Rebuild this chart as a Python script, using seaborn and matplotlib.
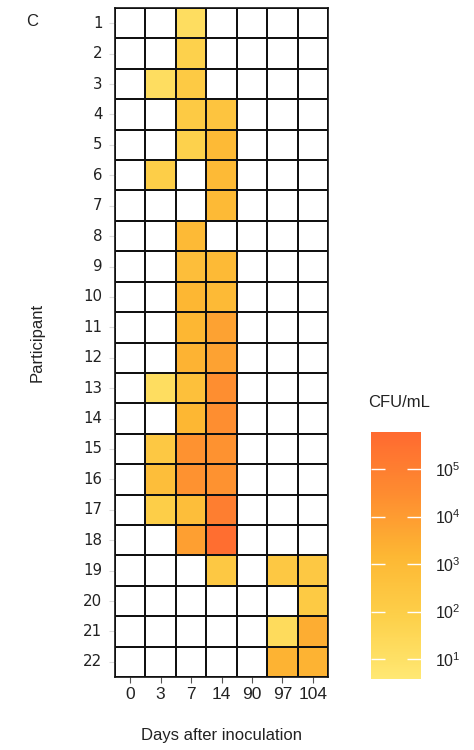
import numpy as np
import pandas as pd
import matplotlib
matplotlib.use('Agg')
import matplotlib.pyplot as plt
from matplotlib.colors import LinearSegmentedColormap, ListedColormap
import seaborn as sns

days = ['0', '3', '7', '14', '90', '97', '104']
participants = [str(i) for i in range(1, 23)]

# log10 CFU/mL per participant, columns follow `days`; nan = not detected
nan = np.nan
log_cfu = [
    [nan, nan, 1.2, nan, nan, nan, nan],
    [nan, nan, 1.8, nan, nan, nan, nan],
    [nan, 1.2, 2.2, nan, nan, nan, nan],
    [nan, nan, 2.2, 2.5, nan, nan, nan],
    [nan, nan, 1.8, 3.0, nan, nan, nan],
    [nan, 2.0, nan, 3.0, nan, nan, nan],
    [nan, nan, nan, 3.0, nan, nan, nan],
    [nan, nan, 3.0, nan, nan, nan, nan],
    [nan, nan, 2.8, 3.0, nan, nan, nan],
    [nan, nan, 3.2, 3.0, nan, nan, nan],
    [nan, nan, 3.2, 3.8, nan, nan, nan],
    [nan, nan, 3.3, 3.8, nan, nan, nan],
    [nan, 1.2, 2.7, 4.4, nan, nan, nan],
    [nan, nan, 3.2, 4.4, nan, nan, nan],
    [nan, 2.3, 4.3, 4.3, nan, nan, nan],
    [nan, 2.8, 4.3, 4.3, nan, nan, nan],
    [nan, 2.0, 2.8, 5.0, nan, nan, nan],
    [nan, nan, 3.9, 5.6, nan, nan, nan],
    [nan, nan, nan, 2.3, nan, 2.3, 2.3],
    [nan, nan, nan, nan, nan, nan, 2.2],
    [nan, nan, nan, nan, nan, 1.3, 3.5],
    [nan, nan, nan, nan, nan, 3.3, 3.3],
]
cbar_ticks = [1, 2, 3, 4, 5]
cbar_labels = ['$10^{1}$', '$10^{2}$', '$10^{3}$', '$10^{4}$', '$10^{5}$']

df = pd.DataFrame(log_cfu, index=participants, columns=days)

plt.rcParams['font.family'] = ['Liberation Sans', 'DejaVu Sans']
plt.rcParams['mathtext.fontset'] = 'custom'
plt.rcParams['mathtext.rm'] = 'Liberation Sans'
plt.rcParams['mathtext.it'] = 'Liberation Sans'

cmap = LinearSegmentedColormap.from_list(
    'cfu', ['#ffe873', '#fdd04a', '#fdb733', '#fe8c30', '#ff6a30'])

fig = plt.figure(figsize=(4.74, 7.5), dpi=100)
ax = fig.add_axes([0.2426, 0.0973, 0.4494, 0.892])
cax = fig.add_axes([0.7827, 0.0947, 0.1055, 0.3293])

# white background grid for empty cells
sns.heatmap(pd.DataFrame(0, index=participants, columns=days), ax=ax,
            cmap=ListedColormap(['white']), cbar=False,
            linewidths=1.2, linecolor='#111111')
sns.heatmap(df, ax=ax, cmap=cmap, vmin=0.58, vmax=5.78,
            linewidths=1.2, linecolor='#111111', cbar_ax=cax)

for sp in ['left', 'bottom', 'right', 'top']:
    ax.spines[sp].set_visible(True)
    ax.spines[sp].set_color('#111111')
    ax.spines[sp].set_linewidth(1.2)

ax.set_xticklabels(days, rotation=0, fontsize=12.5, color='#222222')
ax.set_yticklabels(participants, rotation=0, fontsize=10.8,
                   family='DejaVu Sans', color='#222222')
ax.tick_params(axis='y', length=4, color='#dddddd', pad=5)
ax.tick_params(axis='x', length=4, color='#555555', pad=3)
ax.set_xlabel('Days after inoculation', fontsize=12, color='#222222',
              labelpad=19)
ax.set_ylabel('Participant', fontsize=12, color='#222222', labelpad=28)

cax.set_yticks(cbar_ticks)
cax.set_yticklabels(cbar_labels, fontsize=11.5, color='#222222')
cax.tick_params(axis='y', direction='in', left=True, right=True,
                length=10, width=1, color='#ffffff', pad=10)
cax.set_title('CFU/mL', fontsize=12, color='#222222', loc='left',
              pad=18, x=-0.05)

fig.text(0.055, 0.965, 'C', fontsize=12, color='#222222')

plt.savefig('out.png', dpi=100)
